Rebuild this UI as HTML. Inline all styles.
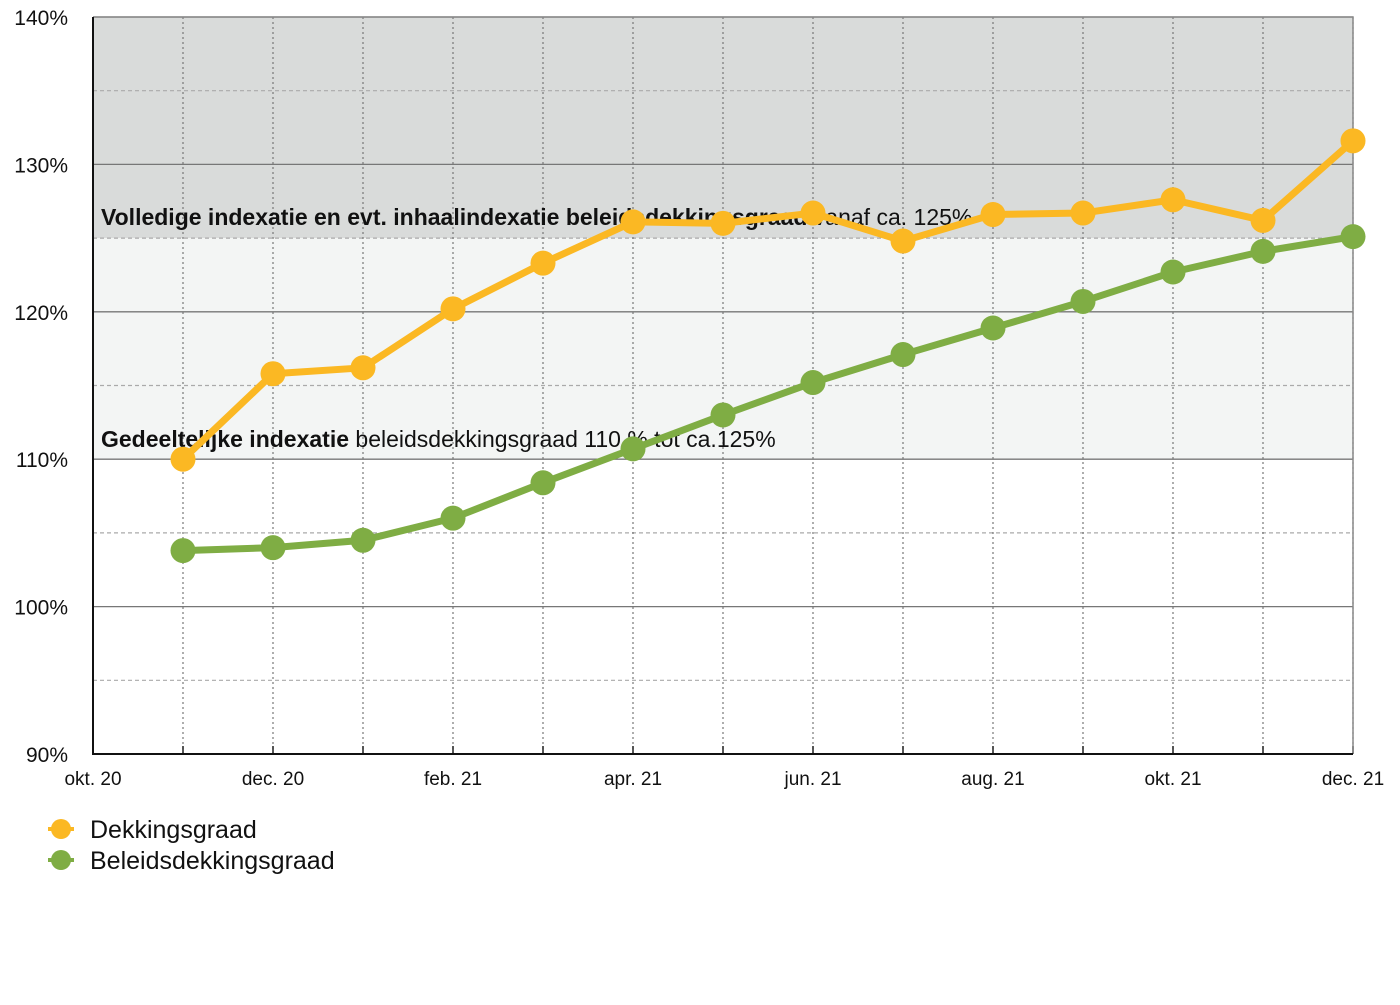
<!DOCTYPE html>
<html><head><meta charset="utf-8"><style>
body{margin:0;background:#fff;width:1400px;height:1000px;overflow:hidden;font-family:"Liberation Sans",Arial,sans-serif}
svg text{font-family:"Liberation Sans",Arial,sans-serif}
</style></head><body>
<svg id="chart" width="1400" height="1000" xmlns="http://www.w3.org/2000/svg"></svg>
<script>
const months=["okt. 20","nov. 20","dec. 20","jan. 21","feb. 21","mrt. 21","apr. 21","mei 21","jun. 21","jul. 21","aug. 21","sep. 21","okt. 21","nov. 21","dec. 21"];
const dekkingsgraad=[null,110.0,115.8,116.2,120.2,123.3,126.1,126.0,126.7,124.8,126.6,126.7,127.6,126.2,131.6];
const beleidsdekkingsgraad=[null,103.8,104.0,104.5,106.0,108.4,110.7,113.0,115.2,117.1,118.9,120.7,122.7,124.1,125.1];
const yTicks=[90,100,110,120,130,140];
const yMinor=[95,105,115,125,135];

const L=93,R=1353,T=17,B=754,yMin=90,yMax=140;
const x=i=>L+(R-L)*i/(months.length-1);
const y=v=>B-(B-T)*(v-yMin)/(yMax-yMin);
const svg=document.getElementById('chart');
const NS="http://www.w3.org/2000/svg";
function mk(tag,attrs,parent){const e=document.createElementNS(NS,tag);for(const k in attrs)e.setAttribute(k,attrs[k]);(parent||svg).appendChild(e);return e;}

let e;
e=mk('rect',{x:L,y:y(140),width:R-L,height:y(125)-y(140),fill:'#d9dbda'});


e=mk('rect',{x:L,y:y(125),width:R-L,height:y(110)-y(125),fill:'#f3f5f4'});



yMinor.forEach(v=>{
  e=mk('line',{x1:L,x2:R,y1:y(v),y2:y(v),stroke:'#aaa','stroke-width':1.2,'stroke-dasharray':'4,3'});
  
  
});
yTicks.forEach(v=>{
  if(v>yMin){
    e=mk('line',{x1:L,x2:R,y1:y(v),y2:y(v),stroke:'#777','stroke-width':1.3});
    
    
  }
  e=mk('text',{x:68,y:y(v)+8,'text-anchor':'end','font-size':21,fill:'#111'});
  e.textContent=v+'%';
  
  
});
months.forEach((m,i)=>{
  if(i>0){
    e=mk('line',{x1:x(i),x2:x(i),y1:T,y2:B,stroke:'#777','stroke-width':1.2,'stroke-dasharray':'2,3'});
    
    
    e=mk('line',{x1:x(i),x2:x(i),y1:B-8,y2:B,stroke:'#222','stroke-width':1.5});
    
    
  }
  if(i%2===0){
    e=mk('text',{x:x(i),y:785,'text-anchor':'middle','font-size':19,fill:'#111'});
    e.textContent=m;
    
    
  }
});
e=mk('path',{d:`M${L},${T}H${R}V${B}`,fill:'none',stroke:'#888','stroke-width':1.5});


e=mk('path',{d:`M${L},${T}V${B}H${R}`,fill:'none',stroke:'#111','stroke-width':2});



e=mk('text',{x:101,y:225,'font-size':23,fill:'#111'});
e.innerHTML='<tspan font-weight="bold">Volledige indexatie en evt. inhaalindexatie beleidsdekkingsgraad</tspan> vanaf ca. 125%';


e=mk('text',{x:101,y:447,'font-size':23,fill:'#111'});
e.innerHTML='<tspan font-weight="bold">Gedeeltelijke indexatie</tspan> beleidsdekkingsgraad 110 % tot ca.125%';



function series(vals,color,name){
  const pts=vals.map((v,i)=>v==null?null:[x(i),y(v)]).filter(p=>p);
  e=mk('polyline',{points:pts.map(p=>p.join(',')).join(' '),fill:'none',stroke:color,'stroke-width':7,'stroke-linejoin':'round'});
  
  
  pts.forEach(p=>{
    e=mk('circle',{cx:p[0],cy:p[1],r:12.5,fill:color});
    
    
  });
}
series(beleidsdekkingsgraad,'#7fad44','beleidsdekkingsgraad');
series(dekkingsgraad,'#fbb823','dekkingsgraad');

[['Dekkingsgraad','#fbb823',829],['Beleidsdekkingsgraad','#7fad44',860]].forEach(([t,c,yy])=>{
  const g=mk('g',{});
  
  
  mk('line',{x1:48,x2:74,y1:yy,y2:yy,stroke:c,'stroke-width':4},g);
  mk('circle',{cx:61,cy:yy,r:10,fill:c},g);
  const tx=mk('text',{x:90,y:yy+9,'font-size':25,fill:'#111'},g);
  tx.textContent=t;
});
</script>
</body></html>
